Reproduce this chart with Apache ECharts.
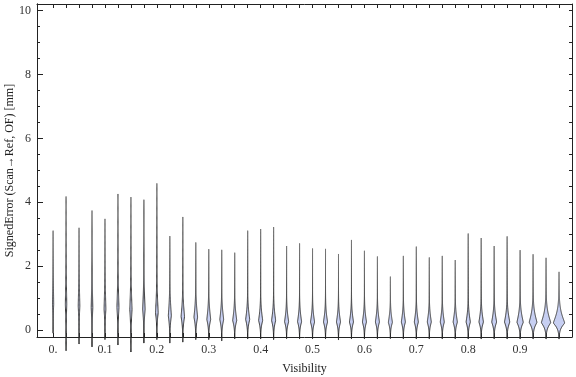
<!DOCTYPE html>
<html>
<head>
<meta charset="utf-8">
<script src="https://cdn.jsdelivr.net/npm/echarts@6/dist/echarts.min.js"></script>
<style>
html, body { margin: 0; padding: 0; background: #fff; }
#main { width: 576px; height: 377px; }
</style>
</head>
<body>
<div id="main"></div>
<script>
// violin positions (Visibility bins)
var visibility = [0, 0.025, 0.05, 0.075, 0.1, 0.125, 0.15, 0.175, 0.2, 0.225,
    0.25, 0.275, 0.3, 0.325, 0.35, 0.375, 0.4, 0.425, 0.45, 0.475,
    0.5, 0.525, 0.55, 0.575, 0.6, 0.625, 0.65, 0.675, 0.7, 0.725,
    0.75, 0.775, 0.8, 0.825, 0.85, 0.875, 0.9, 0.925, 0.95, 0.975];
// largest signed error per bin [mm]
var errMax = [3.11, 4.18, 3.20, 3.74, 3.48, 4.26, 4.16, 4.08, 4.59, 2.94,
    3.54, 2.74, 2.53, 2.51, 2.42, 3.11, 3.16, 3.22, 2.63, 2.71,
    2.55, 2.54, 2.38, 2.82, 2.48, 2.30, 1.67, 2.32, 2.61, 2.27,
    2.32, 2.19, 3.02, 2.88, 2.63, 2.93, 2.50, 2.37, 2.26, 1.82];
// smallest signed error per bin [mm]
var errMin = [-0.10, -0.65, -0.44, -0.53, -0.30, -0.47, -0.69, -0.41, -0.30, -0.41,
    -0.38, -0.30, -0.30, -0.34, -0.28, -0.28, -0.28, -0.30, -0.27, -0.28,
    -0.28, -0.28, -0.31, -0.28, -0.28, -0.28, -0.27, -0.28, -0.28, -0.28,
    -0.28, -0.28, -0.28, -0.28, -0.28, -0.28, -0.28, -0.28, -0.28, -0.28];
// most frequent error (widest part of the violin)
var errMode = [0.80, 0.80, 0.75, 0.70, 0.65, 0.70, 0.65, 0.65, 0.55, 0.45,
    0.42, 0.40, 0.33, 0.33, 0.30, 0.33, 0.30, 0.30, 0.26, 0.26,
    0.25, 0.25, 0.25, 0.25, 0.25, 0.25, 0.24, 0.25, 0.25, 0.25,
    0.25, 0.25, 0.25, 0.25, 0.25, 0.25, 0.24, 0.24, 0.23, 0.22];
// relative peak density
var peakDensity = [0.6, 0.7, 0.8, 0.8, 0.9, 1.0, 1.1, 1.2, 1.3, 1.5,
    1.7, 1.8, 1.9, 1.9, 2.0, 2.0, 2.0, 2.0, 2.0, 2.0,
    2.0, 2.0, 2.0, 2.0, 2.0, 2.0, 2.0, 2.0, 2.0, 2.0,
    2.0, 2.1, 2.1, 2.2, 2.4, 2.6, 3.1, 3.8, 4.6, 5.6];
// spread of the upper tail [mm]
var upperSpread = [0.90, 0.90, 0.80, 0.80, 0.75, 0.75, 0.70, 0.65, 0.60, 0.50,
    0.45, 0.42, 0.40, 0.38, 0.36, 0.36, 0.35, 0.35, 0.33, 0.33,
    0.32, 0.32, 0.32, 0.32, 0.32, 0.32, 0.30, 0.32, 0.32, 0.32,
    0.32, 0.32, 0.32, 0.33, 0.33, 0.33, 0.34, 0.35, 0.36, 0.36];
var xLabels = [0, 0.1, 0.2, 0.3, 0.4, 0.5, 0.6, 0.7, 0.8, 0.9];
var yLabels = [0, 2, 4, 6, 8, 10];
var yMinor = [];
for (var t = 0; t <= 20; t++) yMinor.push(t * 0.5);

var widthScale = 0.00193; // visibility units per density unit

var seriesData = visibility.map(function (v, i) {
    return [v, errMin[i], errMax[i], errMode[i], peakDensity[i], upperSpread[i]];
});

var myChart = echarts.init(document.getElementById('main'));

function profile(y, m, up, low) {
    var d = y >= m ? (y - m) / up : (m - y) / low;
    return Math.exp(-Math.pow(d, 1.25));
}

function renderViolin(params, api) {
    var x = api.value(0), lo = api.value(1), hi = api.value(2);
    var m = api.value(3), half = api.value(4) * widthScale, up = api.value(5);
    var low = (m - lo) / 3;
    var ys = [];
    var n = 140;
    for (var k = 0; k <= n; k++) ys.push(lo + (hi - lo) * k / n);
    ys.push(m);
    ys.sort(function (a, b) { return a - b; });
    var left = [], right = [];
    ys.forEach(function (y) {
        var w = half * profile(y, m, up, low);
        left.push(api.coord([x - w, y]));
        right.unshift(api.coord([x + w, y]));
    });
    return {
        type: 'polygon',
        shape: { points: left.concat(right) },
        style: {
            fill: '#c7cff2',
            stroke: new echarts.graphic.LinearGradient(0, 0, 0, 1, [
                { offset: 0, color: '#6e6e6e' },
                { offset: 1, color: '#222222' }
            ]),
            lineWidth: 1
        }
    };
}

var fontName = 'Liberation Serif';
var frameLine = { show: true, onZero: false, lineStyle: { color: '#222', width: 1 } };

option = {
    animation: false,
    grid: { left: 37, right: 4, top: 4, bottom: 40, outerBoundsMode: 'none' },
    xAxis: [{
        type: 'value', min: -0.031, max: 1.0, position: 'bottom',
        axisLine: frameLine,
        axisTick: { inside: true, length: 4, customValues: visibility, lineStyle: { color: '#222' } },
        axisLabel: {
            customValues: xLabels, margin: 7,
            fontFamily: fontName, fontSize: 12, color: '#333',
            formatter: function (v) { return v === 0 ? '0.' : v.toFixed(1); }
        },
        splitLine: { show: false },
        name: 'Visibility', nameLocation: 'middle', nameGap: 26, nameMoveOverlap: false,
        nameTextStyle: { fontFamily: fontName, fontSize: 12, color: '#222' }
    }, {
        type: 'value', min: -0.031, max: 1.0, position: 'top',
        axisLine: frameLine,
        axisTick: { inside: true, length: 4, customValues: visibility, lineStyle: { color: '#222' } },
        axisLabel: { show: false },
        splitLine: { show: false }
    }],
    yAxis: [{
        type: 'value', min: -0.22, max: 10.21, position: 'left',
        axisLine: frameLine,
        axisTick: { inside: true, length: 6, customValues: yLabels, lineStyle: { color: '#222' } },
        axisLabel: { customValues: yLabels, margin: 6, fontFamily: fontName, fontSize: 12, color: '#333' },
        splitLine: { show: false },
        name: 'SignedError (Scan\u2192Ref, OF) [mm]', nameLocation: 'middle', nameGap: 21, nameMoveOverlap: false,
        nameTextStyle: { fontFamily: fontName, fontSize: 12, color: '#222' }
    }, {
        type: 'value', min: -0.22, max: 10.21, position: 'left',
        axisLine: frameLine,
        axisTick: { inside: true, length: 3, customValues: yMinor, lineStyle: { color: '#222' } },
        axisLabel: { show: false },
        splitLine: { show: false }
    }, {
        type: 'value', min: -0.22, max: 10.21, position: 'right',
        axisLine: frameLine,
        axisTick: { inside: true, length: 3, customValues: yMinor, lineStyle: { color: '#222' } },
        axisLabel: { show: false },
        splitLine: { show: false }
    }],
    series: [{
        type: 'custom',
        xAxisIndex: 0,
        yAxisIndex: 0,
        renderItem: renderViolin,
        encode: { x: 0, y: [1, 2] },
        data: seriesData
    }]
};

myChart.setOption(option);
</script>
</body>
</html>
